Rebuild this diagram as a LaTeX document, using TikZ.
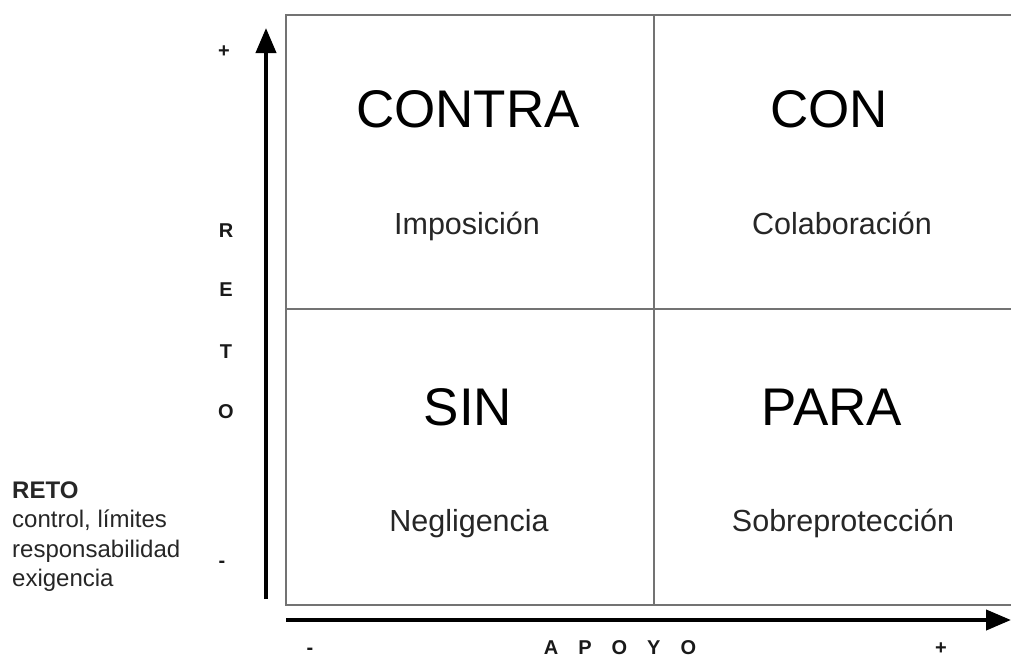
\documentclass[tikz,border=0pt]{standalone}
\usepackage{fontspec}
\setmainfont{Liberation Sans}
\usetikzlibrary{arrows.meta}
\begin{document}
\begin{tikzpicture}[x=1pt,y=-1pt,
  grid/.style={draw=black!55,line width=1.6pt},
  axis/.style={draw=black,line width=4pt,-{Triangle[length=25pt,width=20pt]}},
  big/.style={anchor=base,text=black,font=\fontsize{53}{60}\selectfont,inner sep=0pt},
  small/.style={anchor=base,text=black!85,font=\fontsize{30.5}{34}\selectfont,inner sep=0pt},
  lbl/.style={anchor=base,text=black!90,font=\bfseries\fontsize{20}{24}\selectfont,inner sep=0pt},
  side/.style={anchor=base west,text=black!85,font=\fontsize{24}{29}\selectfont,inner sep=0pt}]
\useasboundingbox (0,0) rectangle (1011,657);
% grid
\coordinate (tl) at (286,15);
\coordinate (tr) at (1013,15);
\coordinate (bl) at (286,605);
\coordinate (br) at (1013,605);
\coordinate (mt) at (654,15);
\coordinate (mb) at (654,605);
\coordinate (ml) at (286,309);
\coordinate (mr) at (1013,309);
\draw[grid] (tr) -- (tl) -- (bl) -- (br);
\draw[grid] (mt) -- (mb);
\draw[grid] (ml) -- (mr);
% axes
\coordinate (v0) at (266,599);
\coordinate (v1) at (266,28);
\coordinate (h0) at (286,620);
\coordinate (h1) at (1011,620);
\draw[axis] (v0) -- (v1);
\draw[axis] (h0) -- (h1);
% quadrants
\node[big] (contra) at (468,127) {CONTRA};
\node[big] (con) at (829,127) {CON};
\node[big] (sin) at (468,425) {SIN};
\node[big] (para) at (832,425) {PARA};
\node[small] (imp) at (467,234) {Imposición};
\node[small] (col) at (842,234) {Colaboración};
\node[small] (neg) at (469,531) {Negligencia};
\node[small] (sob) at (843,531) {Sobreprotección};
% axis labels
\node[lbl] (vp) at (224,57) {+};
\node[lbl] (vm) at (222,567) {-};
\node[lbl] (hm) at (310,654) {-};
\node[lbl] (hp) at (941,654) {+};
\node[lbl] (r1) at (226,237) {R};
\node[lbl] (r2) at (226,296) {E};
\node[lbl] (r3) at (226,358) {T};
\node[lbl] (r4) at (226,418) {O};
\node[lbl] (apoyo) at (620,654) {A\hspace{20pt}P\hspace{20pt}O\hspace{20pt}Y\hspace{20pt}O};
% side text
\node[side,font=\bfseries\fontsize{24}{29}\selectfont] (reto) at (12,498) {RETO};
\node[side] (s1) at (12,527) {control, límites};
\node[side] (s2) at (12,557) {responsabilidad};
\node[side] (s3) at (12,586) {exigencia};
\end{tikzpicture}
\end{document}
